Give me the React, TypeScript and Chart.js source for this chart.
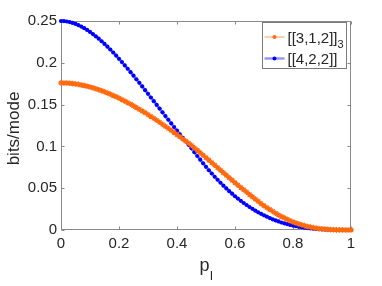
import React, { useEffect, useRef } from "react";
import { Chart, registerables } from "chart.js";

Chart.register(...registerables);

const pL = [
  0, 0.01, 0.02, 0.03, 0.04, 0.05, 0.06, 0.07, 0.08, 0.09,
  0.1, 0.11, 0.12, 0.13, 0.14, 0.15, 0.16, 0.17, 0.18, 0.19,
  0.2, 0.21, 0.22, 0.23, 0.24, 0.25, 0.26, 0.27, 0.28, 0.29,
  0.3, 0.31, 0.32, 0.33, 0.34, 0.35, 0.36, 0.37, 0.38, 0.39,
  0.4, 0.41, 0.42, 0.43, 0.44, 0.45, 0.46, 0.47, 0.48, 0.49,
  0.5, 0.51, 0.52, 0.53, 0.54, 0.55, 0.56, 0.57, 0.58, 0.59,
  0.6, 0.61, 0.62, 0.63, 0.64, 0.65, 0.66, 0.67, 0.68, 0.69,
  0.7, 0.71, 0.72, 0.73, 0.74, 0.75, 0.76, 0.77, 0.78, 0.79,
  0.8, 0.81, 0.82, 0.83, 0.84, 0.85, 0.86, 0.87, 0.88, 0.89,
  0.9, 0.91, 0.92, 0.93, 0.94, 0.95, 0.96, 0.97, 0.98, 0.99, 1,
];

// [[3,1,2]]_3 (orange)
const rate312 = [
  0.176, 0.1759, 0.1758, 0.1755, 0.1752, 0.1747, 0.1742, 0.1735, 0.1728, 0.172,
  0.1711, 0.1701, 0.169, 0.1678, 0.1666, 0.1653, 0.1639, 0.1625, 0.1609, 0.1594,
  0.1577, 0.156, 0.1542, 0.1524, 0.1505, 0.1485, 0.1465, 0.1444, 0.1423, 0.1402,
  0.138, 0.1357, 0.1335, 0.1312, 0.1288, 0.1264, 0.124, 0.1215, 0.1191, 0.1166,
  0.114, 0.1115, 0.1089, 0.1064, 0.1038, 0.1012, 0.0983, 0.0954, 0.0924, 0.0895,
  0.0865, 0.0835, 0.0805, 0.0775, 0.0745, 0.0715, 0.0685, 0.0655, 0.0625, 0.0595,
  0.0565, 0.0537, 0.0509, 0.0481, 0.0453, 0.0425, 0.0397, 0.037, 0.0343, 0.0316,
  0.029, 0.0267, 0.0245, 0.0223, 0.0201, 0.018, 0.0162, 0.0145, 0.0128, 0.0111,
  0.0095, 0.0083, 0.0072, 0.0062, 0.0052, 0.0042, 0.0035, 0.0028, 0.0022, 0.0017,
  0.0013, 0.001, 0.0007, 0.0005, 0.0003, 0.0002, 0.0001, 0.0001, 0, 0, 0,
];

// [[4,2,2]] (blue)
const rate422 = [
  0.25, 0.2499, 0.2494, 0.2487, 0.2477, 0.2465, 0.245, 0.2433, 0.2414, 0.2393,
  0.2369, 0.2344, 0.2317, 0.2288, 0.2258, 0.2226, 0.2193, 0.2159, 0.2123, 0.2086,
  0.2048, 0.2009, 0.1969, 0.1929, 0.1888, 0.1846, 0.1803, 0.176, 0.1717, 0.1673,
  0.1629, 0.1585, 0.1541, 0.1496, 0.1452, 0.1407, 0.1363, 0.1319, 0.1275, 0.1231,
  0.1188, 0.1145, 0.1102, 0.106, 0.1019, 0.0977, 0.0931, 0.0885, 0.0841, 0.0798,
  0.0756, 0.0715, 0.0676, 0.0637, 0.0601, 0.0565, 0.053, 0.0497, 0.0465, 0.0434,
  0.0404, 0.0376, 0.0349, 0.0323, 0.0299, 0.0275, 0.0253, 0.0231, 0.0212, 0.0193,
  0.0175, 0.0159, 0.0143, 0.0128, 0.0114, 0.0102, 0.009, 0.008, 0.007, 0.0061,
  0.0053, 0.0045, 0.0038, 0.0032, 0.0027, 0.0022, 0.0018, 0.0015, 0.0012, 0.0009,
  0.0007, 0.0005, 0.0004, 0.0002, 0.0001, 0.0001, 0, 0, 0, 0, 0,
];

const xTicks = [0, 0.2, 0.4, 0.6, 0.8, 1];
const xTickLabels = ["0", "0.2", "0.4", "0.6", "0.8", "1"];
const yTicks = [0, 0.05, 0.1, 0.15, 0.2, 0.25];
const yTickLabels = ["0", "0.05", "0.1", "0.15", "0.2", "0.25"];

const seriesNames = ["[[3,1,2]]", "[[4,2,2]]"];
const seriesSubs = ["3", ""];
const xTitle = "p";
const xTitleSub = "l";
const yTitle = "bits/mode";

const FONT = "'Liberation Sans', Arial, Helvetica, sans-serif";
const TEXT = "#262626";
const AXIS = "#8a8a8a";
const ORANGE = "#ff6a10";
const ORANGE_LINE = "rgba(255,120,40,0.6)";
const BLUE = "#0000ff";
const BLUE_LINE = "rgba(40,40,255,0.5)";

const framePlugin = {
  id: "frame",
  beforeDraw(chart: any) {
    const { ctx, width, height } = chart;
    ctx.save();
    ctx.fillStyle = "#ffffff";
    ctx.fillRect(0, 0, width, height);
    ctx.restore();
  },
  beforeDatasetsDraw(chart: any) {
    const { ctx, chartArea, scales } = chart;
    const { left, right, top, bottom } = chartArea;
    const L = Math.round(left) + 0.5;
    const R = Math.round(right) - 0.5;
    const T = Math.round(top) + 0.5;
    const B = Math.round(bottom) - 0.5;
    ctx.save();
    ctx.strokeStyle = AXIS;
    ctx.lineWidth = 1;
    ctx.strokeRect(L, T, R - L, B - T);
    ctx.beginPath();
    const tl = 3;
    xTicks.forEach((v) => {
      const px = Math.round(scales.x.getPixelForValue(v)) + 0.5;
      ctx.moveTo(px, B);
      ctx.lineTo(px, B - tl);
      ctx.moveTo(px, T);
      ctx.lineTo(px, T + tl);
    });
    yTicks.forEach((v) => {
      const py = Math.round(scales.y.getPixelForValue(v)) + 0.5;
      ctx.moveTo(L, py);
      ctx.lineTo(L + tl, py);
      ctx.moveTo(R, py);
      ctx.lineTo(R - tl, py);
    });
    ctx.stroke();
    ctx.restore();
  },
  afterDraw(chart: any) {
    const { ctx, chartArea } = chart;
    const { left, right, top, bottom } = chartArea;
    ctx.save();
    // legend
    const bw = 84;
    const bh = 46;
    const bx = Math.round(right) - 5 - bw + 0.5;
    const by = Math.round(top) + 1 + 0.5;
    ctx.fillStyle = "#ffffff";
    ctx.fillRect(bx, by, bw, bh);
    ctx.strokeStyle = "#7a7a7a";
    ctx.lineWidth = 1;
    ctx.strokeRect(bx, by, bw, bh);
    const rows = [by + 14.5, by + 36];
    const lineCols = [ORANGE_LINE, BLUE_LINE];
    const markCols = [ORANGE, BLUE];
    const lws = [1.2, 2.4];
    rows.forEach((ry, i) => {
      ctx.strokeStyle = lineCols[i];
      ctx.lineWidth = lws[i];
      ctx.beginPath();
      ctx.moveTo(bx + 2, ry);
      ctx.lineTo(bx + 22, ry);
      ctx.stroke();
      ctx.fillStyle = markCols[i];
      ctx.beginPath();
      ctx.arc(bx + 12, ry, 2, 0, Math.PI * 2);
      ctx.fill();
      ctx.fillStyle = TEXT;
      ctx.font = `15px ${FONT}`;
      ctx.textBaseline = "alphabetic";
      ctx.textAlign = "left";
      const tx = bx + 25;
      ctx.fillText(seriesNames[i], tx, ry + 5.5);
      if (seriesSubs[i]) {
        const w = ctx.measureText(seriesNames[i]).width;
        ctx.font = `11px ${FONT}`;
        ctx.fillText(seriesSubs[i], tx + w, ry + 10.5);
      }
    });
    // x title with subscript
    ctx.fillStyle = TEXT;
    ctx.font = `18px ${FONT}`;
    const cx = (left + right) / 2;
    const pw = ctx.measureText(xTitle).width;
    ctx.font = `13px ${FONT}`;
    const sw = ctx.measureText(xTitleSub).width;
    const startX = cx - (pw + sw) / 2;
    ctx.font = `18px ${FONT}`;
    ctx.textAlign = "left";
    ctx.textBaseline = "alphabetic";
    ctx.fillText(xTitle, startX, 271);
    ctx.font = `13px ${FONT}`;
    ctx.fillText(xTitleSub, startX + pw + 0.5, 280);
    // y title
    ctx.save();
    ctx.translate(19, (top + bottom) / 2 + 3);
    ctx.rotate(-Math.PI / 2);
    ctx.font = `17px ${FONT}`;
    ctx.textAlign = "center";
    ctx.textBaseline = "alphabetic";
    ctx.fillText(yTitle, 0, 0);
    ctx.restore();
    ctx.restore();
  },
};

export default function App() {
  const ref = useRef<HTMLCanvasElement | null>(null);
  useEffect(() => {
    if (!ref.current) return;
    const chart = new Chart(ref.current, {
      type: "line",
      data: {
        datasets: [
          {
            label: seriesNames[0],
            data: pL.map((p, i) => ({ x: p, y: rate312[i] })),
            borderColor: ORANGE_LINE,
            borderWidth: 3,
            pointStyle: "star",
            pointRadius: 2.8,
            pointBorderWidth: 1.3,
            pointBorderColor: ORANGE,
            pointBackgroundColor: ORANGE,
            tension: 0,
            clip: false as any,
          },
          {
            label: seriesNames[1],
            data: pL.map((p, i) => ({ x: p, y: rate422[i] })),
            borderColor: BLUE_LINE,
            borderWidth: 3,
            pointStyle: "circle",
            pointRadius: 2.1,
            pointBorderWidth: 0,
            pointBackgroundColor: BLUE,
            tension: 0,
            clip: false as any,
          },
        ],
      },
      options: {
        animation: false,
        responsive: false,
        maintainAspectRatio: false,
        devicePixelRatio: 1,
        layout: { padding: { left: 0, right: 31, top: 21, bottom: 26 } },
        plugins: { legend: { display: false }, tooltip: { enabled: false } },
        scales: {
          x: {
            type: "linear",
            min: 0,
            max: 1,
            grid: { display: false, drawTicks: false },
            border: { display: false },
            afterBuildTicks: (s: any) => {
              s.ticks = xTicks.map((v) => ({ value: v }));
            },
            afterFit: (s: any) => {
              s.height = 30;
            },
            ticks: {
              autoSkip: false,
              maxRotation: 0,
              padding: 5,
              color: TEXT,
              font: { family: FONT, size: 15 },
              callback: (_v: any, i: number) => xTickLabels[i],
            },
          },
          y: {
            type: "linear",
            min: 0,
            max: 0.25,
            grid: { display: false, drawTicks: false },
            border: { display: false },
            afterBuildTicks: (s: any) => {
              s.ticks = yTicks.map((v) => ({ value: v }));
            },
            afterFit: (s: any) => {
              s.width = 61;
            },
            ticks: {
              autoSkip: false,
              padding: 4,
              color: TEXT,
              font: { family: FONT, size: 15 },
              callback: (_v: any, i: number) => yTickLabels[i],
            },
          },
        },
      },
      plugins: [framePlugin],
    });
    return () => chart.destroy();
  }, []);
  return (
    <div style={{ position: "absolute", left: 0, top: 0, width: 382, height: 286, background: "#fff" }}>
      <canvas ref={ref} width={382} height={286} style={{ width: 382, height: 286, display: "block" }} />
    </div>
  );
}
